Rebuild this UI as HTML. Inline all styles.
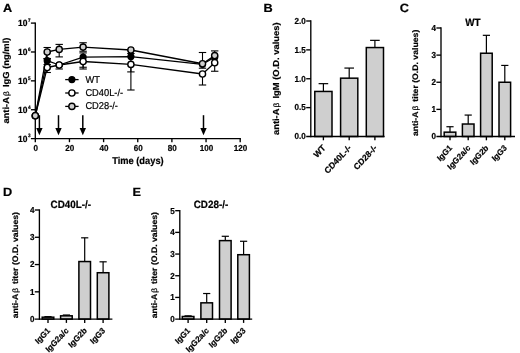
<!DOCTYPE html>
<html><head><meta charset="utf-8"><title>Figure</title>
<style>
html,body{margin:0;padding:0;background:#fff;}
body{width:520px;height:353px;overflow:hidden;}
svg{display:block;font-family:"Liberation Sans", Arial, sans-serif;fill:#000;}
svg text{fill:#000;stroke:#000;stroke-width:0.22px;text-rendering:geometricPrecision;}
</style></head><body>
<svg width="520" height="353" viewBox="0 0 520 353">
<defs><filter id="soft" x="0" y="0" width="520" height="353" filterUnits="userSpaceOnUse"><feGaussianBlur stdDeviation="0.33"/></filter></defs>
<rect x="0" y="0" width="520" height="353" fill="#fff"/>
<g filter="url(#soft)">
<text transform="translate(2.90 12.00) scale(1.06 1)" font-size="12.0" font-weight="bold" text-anchor="start">A</text>
<text transform="translate(263.60 12.00) scale(1.06 1)" font-size="12.0" font-weight="bold" text-anchor="start">B</text>
<text transform="translate(399.80 12.10) scale(1.06 1)" font-size="12.0" font-weight="bold" text-anchor="start">C</text>
<text transform="translate(3.00 196.10) scale(1.06 1)" font-size="12.0" font-weight="bold" text-anchor="start">D</text>
<text transform="translate(132.40 196.40) scale(1.06 1)" font-size="12.0" font-weight="bold" text-anchor="start">E</text>
<line x1="35.30" y1="22.43" x2="35.30" y2="142.20" stroke="#000" stroke-width="1.35" stroke-linecap="butt"/>
<line x1="30.90" y1="138.60" x2="240.88" y2="138.60" stroke="#000" stroke-width="1.35" stroke-linecap="butt"/>
<line x1="30.90" y1="23.10" x2="35.30" y2="23.10" stroke="#000" stroke-width="1.35" stroke-linecap="butt"/>
<text transform="translate(27.40 26.10) scale(0.93 1)" font-size="9.1" font-weight="bold" text-anchor="end">10</text>
<text transform="translate(27.90 21.90) scale(0.93 1)" font-size="5.0" font-weight="bold" text-anchor="start">7</text>
<line x1="30.90" y1="51.98" x2="35.30" y2="51.98" stroke="#000" stroke-width="1.35" stroke-linecap="butt"/>
<text transform="translate(27.40 54.98) scale(0.93 1)" font-size="9.1" font-weight="bold" text-anchor="end">10</text>
<text transform="translate(27.90 50.77) scale(0.93 1)" font-size="5.0" font-weight="bold" text-anchor="start">6</text>
<line x1="30.90" y1="80.85" x2="35.30" y2="80.85" stroke="#000" stroke-width="1.35" stroke-linecap="butt"/>
<text transform="translate(27.40 83.85) scale(0.93 1)" font-size="9.1" font-weight="bold" text-anchor="end">10</text>
<text transform="translate(27.90 79.65) scale(0.93 1)" font-size="5.0" font-weight="bold" text-anchor="start">5</text>
<line x1="30.90" y1="109.72" x2="35.30" y2="109.72" stroke="#000" stroke-width="1.35" stroke-linecap="butt"/>
<text transform="translate(27.40 112.72) scale(0.93 1)" font-size="9.1" font-weight="bold" text-anchor="end">10</text>
<text transform="translate(27.90 108.52) scale(0.93 1)" font-size="5.0" font-weight="bold" text-anchor="start">4</text>
<text transform="translate(27.40 141.60) scale(0.93 1)" font-size="9.1" font-weight="bold" text-anchor="end">10</text>
<text transform="translate(27.90 137.40) scale(0.93 1)" font-size="5.0" font-weight="bold" text-anchor="start">3</text>
<text transform="translate(35.70 151.00) scale(0.93 1)" font-size="8.7" font-weight="bold" text-anchor="middle">0</text>
<line x1="69.45" y1="138.60" x2="69.45" y2="142.20" stroke="#000" stroke-width="1.35" stroke-linecap="butt"/>
<text transform="translate(69.85 151.00) scale(0.93 1)" font-size="8.7" font-weight="bold" text-anchor="middle">20</text>
<line x1="103.60" y1="138.60" x2="103.60" y2="142.20" stroke="#000" stroke-width="1.35" stroke-linecap="butt"/>
<text transform="translate(104.00 151.00) scale(0.93 1)" font-size="8.7" font-weight="bold" text-anchor="middle">40</text>
<line x1="137.75" y1="138.60" x2="137.75" y2="142.20" stroke="#000" stroke-width="1.35" stroke-linecap="butt"/>
<text transform="translate(138.15 151.00) scale(0.93 1)" font-size="8.7" font-weight="bold" text-anchor="middle">60</text>
<line x1="171.90" y1="138.60" x2="171.90" y2="142.20" stroke="#000" stroke-width="1.35" stroke-linecap="butt"/>
<text transform="translate(172.30 151.00) scale(0.93 1)" font-size="8.7" font-weight="bold" text-anchor="middle">80</text>
<line x1="206.05" y1="138.60" x2="206.05" y2="142.20" stroke="#000" stroke-width="1.35" stroke-linecap="butt"/>
<text transform="translate(206.45 151.00) scale(0.93 1)" font-size="8.7" font-weight="bold" text-anchor="middle">100</text>
<line x1="240.20" y1="138.60" x2="240.20" y2="142.20" stroke="#000" stroke-width="1.35" stroke-linecap="butt"/>
<text transform="translate(240.60 151.00) scale(0.93 1)" font-size="8.7" font-weight="bold" text-anchor="middle">120</text>
<text transform="translate(137.90 164.40) scale(0.93 1)" font-size="10.0" font-weight="bold" text-anchor="middle">Time (days)</text>
<text transform="translate(8.50 80.60) scale(0.93 1) rotate(-90)" font-size="9.4" font-weight="bold" text-anchor="middle">anti-A<tspan font-weight="normal" font-size="8.3" dx="1.0">β</tspan><tspan dx="1.6"> </tspan>IgG (ng/ml)</text>
<line x1="47.20" y1="60.70" x2="47.20" y2="58.50" stroke="#000" stroke-width="1.1" stroke-linecap="butt"/>
<line x1="43.50" y1="58.50" x2="50.90" y2="58.50" stroke="#000" stroke-width="1.1" stroke-linecap="butt"/>
<line x1="47.20" y1="60.70" x2="47.20" y2="64.50" stroke="#000" stroke-width="1.1" stroke-linecap="butt"/>
<line x1="43.50" y1="64.50" x2="50.90" y2="64.50" stroke="#000" stroke-width="1.1" stroke-linecap="butt"/>
<line x1="83.10" y1="57.20" x2="83.10" y2="52.90" stroke="#000" stroke-width="1.1" stroke-linecap="butt"/>
<line x1="79.40" y1="52.90" x2="86.80" y2="52.90" stroke="#000" stroke-width="1.1" stroke-linecap="butt"/>
<line x1="83.10" y1="57.20" x2="83.10" y2="67.25" stroke="#000" stroke-width="1.1" stroke-linecap="butt"/>
<line x1="79.40" y1="67.25" x2="86.80" y2="67.25" stroke="#000" stroke-width="1.1" stroke-linecap="butt"/>
<line x1="130.90" y1="56.60" x2="130.90" y2="71.90" stroke="#000" stroke-width="1.1" stroke-linecap="butt"/>
<line x1="127.20" y1="71.90" x2="134.60" y2="71.90" stroke="#000" stroke-width="1.1" stroke-linecap="butt"/>
<line x1="130.90" y1="56.60" x2="130.90" y2="53.50" stroke="#000" stroke-width="1.1" stroke-linecap="butt"/>
<line x1="127.20" y1="53.50" x2="134.60" y2="53.50" stroke="#000" stroke-width="1.1" stroke-linecap="butt"/>
<line x1="202.50" y1="64.30" x2="202.50" y2="68.20" stroke="#000" stroke-width="1.1" stroke-linecap="butt"/>
<line x1="198.80" y1="68.20" x2="206.20" y2="68.20" stroke="#000" stroke-width="1.1" stroke-linecap="butt"/>
<polyline points="35.30,115.75 47.20,60.70 59.20,65.00 83.10,57.20 130.90,56.60 202.50,64.30 214.70,57.20" fill="none" stroke="#000" stroke-width="1.3" stroke-linejoin="round"/>
<circle cx="35.30" cy="115.75" r="2.9" fill="#000" stroke="#000" stroke-width="1.4"/>
<circle cx="47.20" cy="60.70" r="2.9" fill="#000" stroke="#000" stroke-width="1.4"/>
<circle cx="59.20" cy="65.00" r="2.9" fill="#000" stroke="#000" stroke-width="1.4"/>
<circle cx="83.10" cy="57.20" r="2.9" fill="#000" stroke="#000" stroke-width="1.4"/>
<circle cx="130.90" cy="56.60" r="2.9" fill="#000" stroke="#000" stroke-width="1.4"/>
<circle cx="202.50" cy="64.30" r="2.9" fill="#000" stroke="#000" stroke-width="1.4"/>
<circle cx="214.70" cy="57.20" r="2.9" fill="#000" stroke="#000" stroke-width="1.4"/>
<line x1="47.20" y1="67.50" x2="47.20" y2="72.50" stroke="#000" stroke-width="1.1" stroke-linecap="butt"/>
<line x1="43.50" y1="72.50" x2="50.90" y2="72.50" stroke="#000" stroke-width="1.1" stroke-linecap="butt"/>
<line x1="59.20" y1="65.00" x2="59.20" y2="69.00" stroke="#000" stroke-width="1.1" stroke-linecap="butt"/>
<line x1="55.50" y1="69.00" x2="62.90" y2="69.00" stroke="#000" stroke-width="1.1" stroke-linecap="butt"/>
<line x1="83.10" y1="61.50" x2="83.10" y2="69.00" stroke="#000" stroke-width="1.1" stroke-linecap="butt"/>
<line x1="79.40" y1="69.00" x2="86.80" y2="69.00" stroke="#000" stroke-width="1.1" stroke-linecap="butt"/>
<line x1="130.90" y1="64.40" x2="130.90" y2="90.00" stroke="#000" stroke-width="1.1" stroke-linecap="butt"/>
<line x1="127.20" y1="90.00" x2="134.60" y2="90.00" stroke="#000" stroke-width="1.1" stroke-linecap="butt"/>
<line x1="202.50" y1="74.00" x2="202.50" y2="85.00" stroke="#000" stroke-width="1.1" stroke-linecap="butt"/>
<line x1="198.80" y1="85.00" x2="206.20" y2="85.00" stroke="#000" stroke-width="1.1" stroke-linecap="butt"/>
<line x1="214.70" y1="62.75" x2="214.70" y2="71.25" stroke="#000" stroke-width="1.1" stroke-linecap="butt"/>
<line x1="211.00" y1="71.25" x2="218.40" y2="71.25" stroke="#000" stroke-width="1.1" stroke-linecap="butt"/>
<polyline points="35.30,115.75 47.20,67.50 59.20,65.00 83.10,61.50 130.90,64.40 202.50,74.00 214.70,62.75" fill="none" stroke="#000" stroke-width="1.3" stroke-linejoin="round"/>
<circle cx="35.30" cy="115.75" r="3.1" fill="#fff" stroke="#000" stroke-width="1.4"/>
<circle cx="47.20" cy="67.50" r="3.1" fill="#fff" stroke="#000" stroke-width="1.4"/>
<circle cx="59.20" cy="65.00" r="3.1" fill="#fff" stroke="#000" stroke-width="1.4"/>
<circle cx="83.10" cy="61.50" r="3.1" fill="#fff" stroke="#000" stroke-width="1.4"/>
<circle cx="130.90" cy="64.40" r="3.1" fill="#fff" stroke="#000" stroke-width="1.4"/>
<circle cx="202.50" cy="74.00" r="3.1" fill="#fff" stroke="#000" stroke-width="1.4"/>
<circle cx="214.70" cy="62.75" r="3.1" fill="#fff" stroke="#000" stroke-width="1.4"/>
<line x1="47.20" y1="52.00" x2="47.20" y2="47.50" stroke="#000" stroke-width="1.1" stroke-linecap="butt"/>
<line x1="43.50" y1="47.50" x2="50.90" y2="47.50" stroke="#000" stroke-width="1.1" stroke-linecap="butt"/>
<line x1="47.20" y1="52.00" x2="47.20" y2="58.75" stroke="#000" stroke-width="1.1" stroke-linecap="butt"/>
<line x1="43.50" y1="58.75" x2="50.90" y2="58.75" stroke="#000" stroke-width="1.1" stroke-linecap="butt"/>
<line x1="59.20" y1="49.40" x2="59.20" y2="44.40" stroke="#000" stroke-width="1.1" stroke-linecap="butt"/>
<line x1="55.50" y1="44.40" x2="62.90" y2="44.40" stroke="#000" stroke-width="1.1" stroke-linecap="butt"/>
<line x1="59.20" y1="49.40" x2="59.20" y2="56.90" stroke="#000" stroke-width="1.1" stroke-linecap="butt"/>
<line x1="55.50" y1="56.90" x2="62.90" y2="56.90" stroke="#000" stroke-width="1.1" stroke-linecap="butt"/>
<line x1="83.10" y1="47.10" x2="83.10" y2="42.75" stroke="#000" stroke-width="1.1" stroke-linecap="butt"/>
<line x1="79.40" y1="42.75" x2="86.80" y2="42.75" stroke="#000" stroke-width="1.1" stroke-linecap="butt"/>
<line x1="83.10" y1="47.10" x2="83.10" y2="51.25" stroke="#000" stroke-width="1.1" stroke-linecap="butt"/>
<line x1="79.40" y1="51.25" x2="86.80" y2="51.25" stroke="#000" stroke-width="1.1" stroke-linecap="butt"/>
<line x1="202.50" y1="63.75" x2="202.50" y2="52.50" stroke="#000" stroke-width="1.1" stroke-linecap="butt"/>
<line x1="198.80" y1="52.50" x2="206.20" y2="52.50" stroke="#000" stroke-width="1.1" stroke-linecap="butt"/>
<line x1="214.70" y1="55.60" x2="214.70" y2="50.90" stroke="#000" stroke-width="1.1" stroke-linecap="butt"/>
<line x1="211.00" y1="50.90" x2="218.40" y2="50.90" stroke="#000" stroke-width="1.1" stroke-linecap="butt"/>
<polyline points="35.30,115.75 47.20,52.00 59.20,49.40 83.10,47.10 130.90,50.00 202.50,63.75 214.70,55.60" fill="none" stroke="#000" stroke-width="1.3" stroke-linejoin="round"/>
<circle cx="35.30" cy="115.75" r="3.1" fill="#cfcfcf" stroke="#000" stroke-width="1.4"/>
<circle cx="47.20" cy="52.00" r="3.1" fill="#cfcfcf" stroke="#000" stroke-width="1.4"/>
<circle cx="59.20" cy="49.40" r="3.1" fill="#cfcfcf" stroke="#000" stroke-width="1.4"/>
<circle cx="83.10" cy="47.10" r="3.1" fill="#cfcfcf" stroke="#000" stroke-width="1.4"/>
<circle cx="130.90" cy="50.00" r="3.1" fill="#cfcfcf" stroke="#000" stroke-width="1.4"/>
<circle cx="202.50" cy="63.75" r="3.1" fill="#cfcfcf" stroke="#000" stroke-width="1.4"/>
<circle cx="214.70" cy="55.60" r="3.1" fill="#cfcfcf" stroke="#000" stroke-width="1.4"/>
<line x1="39.40" y1="115.20" x2="39.40" y2="129.50" stroke="#000" stroke-width="1.5" stroke-linecap="butt"/>
<polygon points="36.20,128.0 42.60,128.0 39.40,135.2" fill="#000"/>
<line x1="58.50" y1="115.20" x2="58.50" y2="129.50" stroke="#000" stroke-width="1.5" stroke-linecap="butt"/>
<polygon points="55.30,128.0 61.70,128.0 58.50,135.2" fill="#000"/>
<line x1="82.80" y1="115.20" x2="82.80" y2="129.50" stroke="#000" stroke-width="1.5" stroke-linecap="butt"/>
<polygon points="79.60,128.0 86.00,128.0 82.80,135.2" fill="#000"/>
<line x1="203.50" y1="115.20" x2="203.50" y2="129.50" stroke="#000" stroke-width="1.5" stroke-linecap="butt"/>
<polygon points="200.30,128.0 206.70,128.0 203.50,135.2" fill="#000"/>
<line x1="65.20" y1="79.60" x2="78.60" y2="79.60" stroke="#000" stroke-width="1.3" stroke-linecap="butt"/>
<circle cx="71.9" cy="79.60" r="2.9" fill="#000" stroke="#000" stroke-width="1.4"/>
<text transform="translate(85.40 82.60) scale(0.93 1)" font-size="10.0" font-weight="normal" text-anchor="start">WT</text>
<line x1="65.20" y1="93.00" x2="78.60" y2="93.00" stroke="#000" stroke-width="1.3" stroke-linecap="butt"/>
<circle cx="71.9" cy="93.00" r="3.1" fill="#fff" stroke="#000" stroke-width="1.4"/>
<text transform="translate(85.40 96.00) scale(0.93 1)" font-size="10.0" font-weight="normal" text-anchor="start">CD40L-/-</text>
<line x1="65.20" y1="106.40" x2="78.60" y2="106.40" stroke="#000" stroke-width="1.3" stroke-linecap="butt"/>
<circle cx="71.9" cy="106.40" r="3.1" fill="#cfcfcf" stroke="#000" stroke-width="1.4"/>
<text transform="translate(85.40 109.40) scale(0.93 1)" font-size="10.0" font-weight="normal" text-anchor="start">CD28-/-</text>
<line x1="323.40" y1="91.45" x2="323.40" y2="83.66" stroke="#000" stroke-width="1.2" stroke-linecap="butt"/>
<line x1="318.60" y1="83.66" x2="328.20" y2="83.66" stroke="#000" stroke-width="1.2" stroke-linecap="butt"/>
<rect x="314.80" y="91.45" width="17.20" height="45.05" fill="#cfcfcf" stroke="#000" stroke-width="1.5"/>
<line x1="349.20" y1="78.17" x2="349.20" y2="68.07" stroke="#000" stroke-width="1.2" stroke-linecap="butt"/>
<line x1="344.40" y1="68.07" x2="354.00" y2="68.07" stroke="#000" stroke-width="1.2" stroke-linecap="butt"/>
<rect x="340.60" y="78.17" width="17.20" height="58.33" fill="#cfcfcf" stroke="#000" stroke-width="1.5"/>
<line x1="374.90" y1="47.56" x2="374.90" y2="40.35" stroke="#000" stroke-width="1.2" stroke-linecap="butt"/>
<line x1="370.10" y1="40.35" x2="379.70" y2="40.35" stroke="#000" stroke-width="1.2" stroke-linecap="butt"/>
<rect x="366.30" y="47.56" width="17.20" height="88.94" fill="#cfcfcf" stroke="#000" stroke-width="1.5"/>
<line x1="310.80" y1="20.32" x2="310.80" y2="137.18" stroke="#000" stroke-width="1.35" stroke-linecap="butt"/>
<line x1="306.20" y1="136.50" x2="384.60" y2="136.50" stroke="#000" stroke-width="1.35" stroke-linecap="butt"/>
<text transform="translate(305.80 139.30) scale(0.93 1)" font-size="8.7" font-weight="bold" text-anchor="end">0.0</text>
<line x1="306.20" y1="107.62" x2="310.80" y2="107.62" stroke="#000" stroke-width="1.35" stroke-linecap="butt"/>
<text transform="translate(305.80 110.42) scale(0.93 1)" font-size="8.7" font-weight="bold" text-anchor="end">0.5</text>
<line x1="306.20" y1="78.75" x2="310.80" y2="78.75" stroke="#000" stroke-width="1.35" stroke-linecap="butt"/>
<text transform="translate(305.80 81.55) scale(0.93 1)" font-size="8.7" font-weight="bold" text-anchor="end">1.0</text>
<line x1="306.20" y1="49.88" x2="310.80" y2="49.88" stroke="#000" stroke-width="1.35" stroke-linecap="butt"/>
<text transform="translate(305.80 52.67) scale(0.93 1)" font-size="8.7" font-weight="bold" text-anchor="end">1.5</text>
<line x1="306.20" y1="21.00" x2="310.80" y2="21.00" stroke="#000" stroke-width="1.35" stroke-linecap="butt"/>
<text transform="translate(305.80 23.80) scale(0.93 1)" font-size="8.7" font-weight="bold" text-anchor="end">2.0</text>
<line x1="323.40" y1="136.50" x2="323.40" y2="140.30" stroke="#000" stroke-width="1.35" stroke-linecap="butt"/>
<text transform="translate(326.00 148.50) scale(0.93 1) rotate(-45)" font-size="8.9" font-weight="bold" text-anchor="end">WT</text>
<line x1="349.20" y1="136.50" x2="349.20" y2="140.30" stroke="#000" stroke-width="1.35" stroke-linecap="butt"/>
<text transform="translate(351.80 148.50) scale(0.93 1) rotate(-45)" font-size="8.9" font-weight="bold" text-anchor="end">CD40L-/-</text>
<line x1="374.90" y1="136.50" x2="374.90" y2="140.30" stroke="#000" stroke-width="1.35" stroke-linecap="butt"/>
<text transform="translate(377.50 148.50) scale(0.93 1) rotate(-45)" font-size="8.9" font-weight="bold" text-anchor="end">CD28-/-</text>
<text transform="translate(279.00 78.75) scale(0.93 1) rotate(-90)" font-size="9.4" font-weight="bold" text-anchor="middle">anti-A<tspan font-weight="normal" font-size="8.3" dx="1.0">β</tspan><tspan dx="1.6"> </tspan>IgM (O.D. values)</text>
<line x1="450.00" y1="132.16" x2="450.00" y2="126.73" stroke="#000" stroke-width="1.2" stroke-linecap="butt"/>
<line x1="446.40" y1="126.73" x2="453.60" y2="126.73" stroke="#000" stroke-width="1.2" stroke-linecap="butt"/>
<rect x="444.20" y="132.16" width="11.60" height="4.34" fill="#cfcfcf" stroke="#000" stroke-width="1.5"/>
<line x1="468.20" y1="124.02" x2="468.20" y2="115.07" stroke="#000" stroke-width="1.2" stroke-linecap="butt"/>
<line x1="464.60" y1="115.07" x2="471.80" y2="115.07" stroke="#000" stroke-width="1.2" stroke-linecap="butt"/>
<rect x="462.40" y="124.02" width="11.60" height="12.48" fill="#cfcfcf" stroke="#000" stroke-width="1.5"/>
<line x1="486.40" y1="53.23" x2="486.40" y2="35.32" stroke="#000" stroke-width="1.2" stroke-linecap="butt"/>
<line x1="482.80" y1="35.32" x2="490.00" y2="35.32" stroke="#000" stroke-width="1.2" stroke-linecap="butt"/>
<rect x="480.60" y="53.23" width="11.60" height="83.27" fill="#cfcfcf" stroke="#000" stroke-width="1.5"/>
<line x1="504.80" y1="82.25" x2="504.80" y2="65.43" stroke="#000" stroke-width="1.2" stroke-linecap="butt"/>
<line x1="501.20" y1="65.43" x2="508.40" y2="65.43" stroke="#000" stroke-width="1.2" stroke-linecap="butt"/>
<rect x="499.00" y="82.25" width="11.60" height="54.25" fill="#cfcfcf" stroke="#000" stroke-width="1.5"/>
<line x1="441.00" y1="27.32" x2="441.00" y2="137.18" stroke="#000" stroke-width="1.35" stroke-linecap="butt"/>
<line x1="436.40" y1="136.50" x2="515.00" y2="136.50" stroke="#000" stroke-width="1.35" stroke-linecap="butt"/>
<text transform="translate(436.00 139.30) scale(0.93 1)" font-size="8.7" font-weight="bold" text-anchor="end">0</text>
<line x1="436.40" y1="109.38" x2="441.00" y2="109.38" stroke="#000" stroke-width="1.35" stroke-linecap="butt"/>
<text transform="translate(436.00 112.17) scale(0.93 1)" font-size="8.7" font-weight="bold" text-anchor="end">1</text>
<line x1="436.40" y1="82.25" x2="441.00" y2="82.25" stroke="#000" stroke-width="1.35" stroke-linecap="butt"/>
<text transform="translate(436.00 85.05) scale(0.93 1)" font-size="8.7" font-weight="bold" text-anchor="end">2</text>
<line x1="436.40" y1="55.12" x2="441.00" y2="55.12" stroke="#000" stroke-width="1.35" stroke-linecap="butt"/>
<text transform="translate(436.00 57.92) scale(0.93 1)" font-size="8.7" font-weight="bold" text-anchor="end">3</text>
<line x1="436.40" y1="28.00" x2="441.00" y2="28.00" stroke="#000" stroke-width="1.35" stroke-linecap="butt"/>
<text transform="translate(436.00 30.80) scale(0.93 1)" font-size="8.7" font-weight="bold" text-anchor="end">4</text>
<line x1="450.00" y1="136.50" x2="450.00" y2="140.30" stroke="#000" stroke-width="1.35" stroke-linecap="butt"/>
<text transform="translate(452.60 148.50) scale(0.93 1) rotate(-45)" font-size="8.5" font-weight="bold" text-anchor="end">IgG1</text>
<line x1="468.20" y1="136.50" x2="468.20" y2="140.30" stroke="#000" stroke-width="1.35" stroke-linecap="butt"/>
<text transform="translate(470.80 148.50) scale(0.93 1) rotate(-45)" font-size="8.5" font-weight="bold" text-anchor="end">IgG2a/c</text>
<line x1="486.40" y1="136.50" x2="486.40" y2="140.30" stroke="#000" stroke-width="1.35" stroke-linecap="butt"/>
<text transform="translate(489.00 148.50) scale(0.93 1) rotate(-45)" font-size="8.5" font-weight="bold" text-anchor="end">IgG2b</text>
<line x1="504.80" y1="136.50" x2="504.80" y2="140.30" stroke="#000" stroke-width="1.35" stroke-linecap="butt"/>
<text transform="translate(507.40 148.50) scale(0.93 1) rotate(-45)" font-size="8.5" font-weight="bold" text-anchor="end">IgG3</text>
<text transform="translate(417.80 82.90) scale(0.93 1) rotate(-90)" font-size="8.7" font-weight="bold" text-anchor="middle">anti-A<tspan font-weight="normal" font-size="8.3" dx="1.0">β</tspan><tspan dx="1.6"> </tspan>titer (O.D. values)</text>
<text transform="translate(472.80 26.20) scale(0.93 1)" font-size="10.6" font-weight="bold" text-anchor="middle">WT</text>
<line x1="48.00" y1="317.19" x2="48.00" y2="316.65" stroke="#000" stroke-width="1.2" stroke-linecap="butt"/>
<line x1="44.40" y1="316.65" x2="51.60" y2="316.65" stroke="#000" stroke-width="1.2" stroke-linecap="butt"/>
<rect x="42.20" y="317.19" width="11.60" height="1.91" fill="#cfcfcf" stroke="#000" stroke-width="1.5"/>
<line x1="66.40" y1="315.83" x2="66.40" y2="315.01" stroke="#000" stroke-width="1.2" stroke-linecap="butt"/>
<line x1="62.80" y1="315.01" x2="70.00" y2="315.01" stroke="#000" stroke-width="1.2" stroke-linecap="butt"/>
<rect x="60.60" y="315.83" width="11.60" height="3.27" fill="#cfcfcf" stroke="#000" stroke-width="1.5"/>
<line x1="84.70" y1="261.55" x2="84.70" y2="237.82" stroke="#000" stroke-width="1.2" stroke-linecap="butt"/>
<line x1="81.10" y1="237.82" x2="88.30" y2="237.82" stroke="#000" stroke-width="1.2" stroke-linecap="butt"/>
<rect x="78.90" y="261.55" width="11.60" height="57.55" fill="#cfcfcf" stroke="#000" stroke-width="1.5"/>
<line x1="103.10" y1="272.73" x2="103.10" y2="261.82" stroke="#000" stroke-width="1.2" stroke-linecap="butt"/>
<line x1="99.50" y1="261.82" x2="106.70" y2="261.82" stroke="#000" stroke-width="1.2" stroke-linecap="butt"/>
<rect x="97.30" y="272.73" width="11.60" height="46.37" fill="#cfcfcf" stroke="#000" stroke-width="1.5"/>
<line x1="39.40" y1="209.32" x2="39.40" y2="319.78" stroke="#000" stroke-width="1.35" stroke-linecap="butt"/>
<line x1="34.80" y1="319.10" x2="112.40" y2="319.10" stroke="#000" stroke-width="1.35" stroke-linecap="butt"/>
<text transform="translate(34.40 321.90) scale(0.93 1)" font-size="8.7" font-weight="bold" text-anchor="end">0</text>
<line x1="34.80" y1="291.83" x2="39.40" y2="291.83" stroke="#000" stroke-width="1.35" stroke-linecap="butt"/>
<text transform="translate(34.40 294.63) scale(0.93 1)" font-size="8.7" font-weight="bold" text-anchor="end">1</text>
<line x1="34.80" y1="264.55" x2="39.40" y2="264.55" stroke="#000" stroke-width="1.35" stroke-linecap="butt"/>
<text transform="translate(34.40 267.35) scale(0.93 1)" font-size="8.7" font-weight="bold" text-anchor="end">2</text>
<line x1="34.80" y1="237.28" x2="39.40" y2="237.28" stroke="#000" stroke-width="1.35" stroke-linecap="butt"/>
<text transform="translate(34.40 240.08) scale(0.93 1)" font-size="8.7" font-weight="bold" text-anchor="end">3</text>
<line x1="34.80" y1="210.00" x2="39.40" y2="210.00" stroke="#000" stroke-width="1.35" stroke-linecap="butt"/>
<text transform="translate(34.40 212.80) scale(0.93 1)" font-size="8.7" font-weight="bold" text-anchor="end">4</text>
<line x1="48.00" y1="319.10" x2="48.00" y2="322.90" stroke="#000" stroke-width="1.35" stroke-linecap="butt"/>
<text transform="translate(50.60 331.10) scale(0.93 1) rotate(-45)" font-size="8.5" font-weight="bold" text-anchor="end">IgG1</text>
<line x1="66.40" y1="319.10" x2="66.40" y2="322.90" stroke="#000" stroke-width="1.35" stroke-linecap="butt"/>
<text transform="translate(69.00 331.10) scale(0.93 1) rotate(-45)" font-size="8.5" font-weight="bold" text-anchor="end">IgG2a/c</text>
<line x1="84.70" y1="319.10" x2="84.70" y2="322.90" stroke="#000" stroke-width="1.35" stroke-linecap="butt"/>
<text transform="translate(87.30 331.10) scale(0.93 1) rotate(-45)" font-size="8.5" font-weight="bold" text-anchor="end">IgG2b</text>
<line x1="103.10" y1="319.10" x2="103.10" y2="322.90" stroke="#000" stroke-width="1.35" stroke-linecap="butt"/>
<text transform="translate(105.70 331.10) scale(0.93 1) rotate(-45)" font-size="8.5" font-weight="bold" text-anchor="end">IgG3</text>
<text transform="translate(17.90 265.20) scale(0.93 1) rotate(-90)" font-size="8.7" font-weight="bold" text-anchor="middle">anti-A<tspan font-weight="normal" font-size="8.3" dx="1.0">β</tspan><tspan dx="1.6"> </tspan>titer (O.D. values)</text>
<text transform="translate(70.80 208.00) scale(0.93 1)" font-size="10.6" font-weight="bold" text-anchor="middle">CD40L-/-</text>
<line x1="188.10" y1="316.50" x2="188.10" y2="315.85" stroke="#000" stroke-width="1.2" stroke-linecap="butt"/>
<line x1="184.50" y1="315.85" x2="191.70" y2="315.85" stroke="#000" stroke-width="1.2" stroke-linecap="butt"/>
<rect x="182.30" y="316.50" width="11.60" height="2.60" fill="#cfcfcf" stroke="#000" stroke-width="1.5"/>
<line x1="206.70" y1="302.84" x2="206.70" y2="293.52" stroke="#000" stroke-width="1.2" stroke-linecap="butt"/>
<line x1="203.10" y1="293.52" x2="210.30" y2="293.52" stroke="#000" stroke-width="1.2" stroke-linecap="butt"/>
<rect x="200.90" y="302.84" width="11.60" height="16.26" fill="#cfcfcf" stroke="#000" stroke-width="1.5"/>
<line x1="225.30" y1="240.62" x2="225.30" y2="236.28" stroke="#000" stroke-width="1.2" stroke-linecap="butt"/>
<line x1="221.70" y1="236.28" x2="228.90" y2="236.28" stroke="#000" stroke-width="1.2" stroke-linecap="butt"/>
<rect x="219.50" y="240.62" width="11.60" height="78.48" fill="#cfcfcf" stroke="#000" stroke-width="1.5"/>
<line x1="243.60" y1="254.71" x2="243.60" y2="241.27" stroke="#000" stroke-width="1.2" stroke-linecap="butt"/>
<line x1="240.00" y1="241.27" x2="247.20" y2="241.27" stroke="#000" stroke-width="1.2" stroke-linecap="butt"/>
<rect x="237.80" y="254.71" width="11.60" height="64.39" fill="#cfcfcf" stroke="#000" stroke-width="1.5"/>
<line x1="179.80" y1="210.02" x2="179.80" y2="319.78" stroke="#000" stroke-width="1.35" stroke-linecap="butt"/>
<line x1="175.20" y1="319.10" x2="252.20" y2="319.10" stroke="#000" stroke-width="1.35" stroke-linecap="butt"/>
<text transform="translate(174.80 321.90) scale(0.93 1)" font-size="8.7" font-weight="bold" text-anchor="end">0</text>
<line x1="175.20" y1="297.42" x2="179.80" y2="297.42" stroke="#000" stroke-width="1.35" stroke-linecap="butt"/>
<text transform="translate(174.80 300.22) scale(0.93 1)" font-size="8.7" font-weight="bold" text-anchor="end">1</text>
<line x1="175.20" y1="275.74" x2="179.80" y2="275.74" stroke="#000" stroke-width="1.35" stroke-linecap="butt"/>
<text transform="translate(174.80 278.54) scale(0.93 1)" font-size="8.7" font-weight="bold" text-anchor="end">2</text>
<line x1="175.20" y1="254.06" x2="179.80" y2="254.06" stroke="#000" stroke-width="1.35" stroke-linecap="butt"/>
<text transform="translate(174.80 256.86) scale(0.93 1)" font-size="8.7" font-weight="bold" text-anchor="end">3</text>
<line x1="175.20" y1="232.38" x2="179.80" y2="232.38" stroke="#000" stroke-width="1.35" stroke-linecap="butt"/>
<text transform="translate(174.80 235.18) scale(0.93 1)" font-size="8.7" font-weight="bold" text-anchor="end">4</text>
<line x1="175.20" y1="210.70" x2="179.80" y2="210.70" stroke="#000" stroke-width="1.35" stroke-linecap="butt"/>
<text transform="translate(174.80 213.50) scale(0.93 1)" font-size="8.7" font-weight="bold" text-anchor="end">5</text>
<line x1="188.10" y1="319.10" x2="188.10" y2="322.90" stroke="#000" stroke-width="1.35" stroke-linecap="butt"/>
<text transform="translate(190.70 331.10) scale(0.93 1) rotate(-45)" font-size="8.5" font-weight="bold" text-anchor="end">IgG1</text>
<line x1="206.70" y1="319.10" x2="206.70" y2="322.90" stroke="#000" stroke-width="1.35" stroke-linecap="butt"/>
<text transform="translate(209.30 331.10) scale(0.93 1) rotate(-45)" font-size="8.5" font-weight="bold" text-anchor="end">IgG2a/c</text>
<line x1="225.30" y1="319.10" x2="225.30" y2="322.90" stroke="#000" stroke-width="1.35" stroke-linecap="butt"/>
<text transform="translate(227.90 331.10) scale(0.93 1) rotate(-45)" font-size="8.5" font-weight="bold" text-anchor="end">IgG2b</text>
<line x1="243.60" y1="319.10" x2="243.60" y2="322.90" stroke="#000" stroke-width="1.35" stroke-linecap="butt"/>
<text transform="translate(246.20 331.10) scale(0.93 1) rotate(-45)" font-size="8.5" font-weight="bold" text-anchor="end">IgG3</text>
<text transform="translate(156.60 265.20) scale(0.93 1) rotate(-90)" font-size="8.7" font-weight="bold" text-anchor="middle">anti-A<tspan font-weight="normal" font-size="8.3" dx="1.0">β</tspan><tspan dx="1.6"> </tspan>titer (O.D. values)</text>
<text transform="translate(211.00 208.10) scale(0.93 1)" font-size="10.6" font-weight="bold" text-anchor="middle">CD28-/-</text>
</g>
</svg>
</body></html>
